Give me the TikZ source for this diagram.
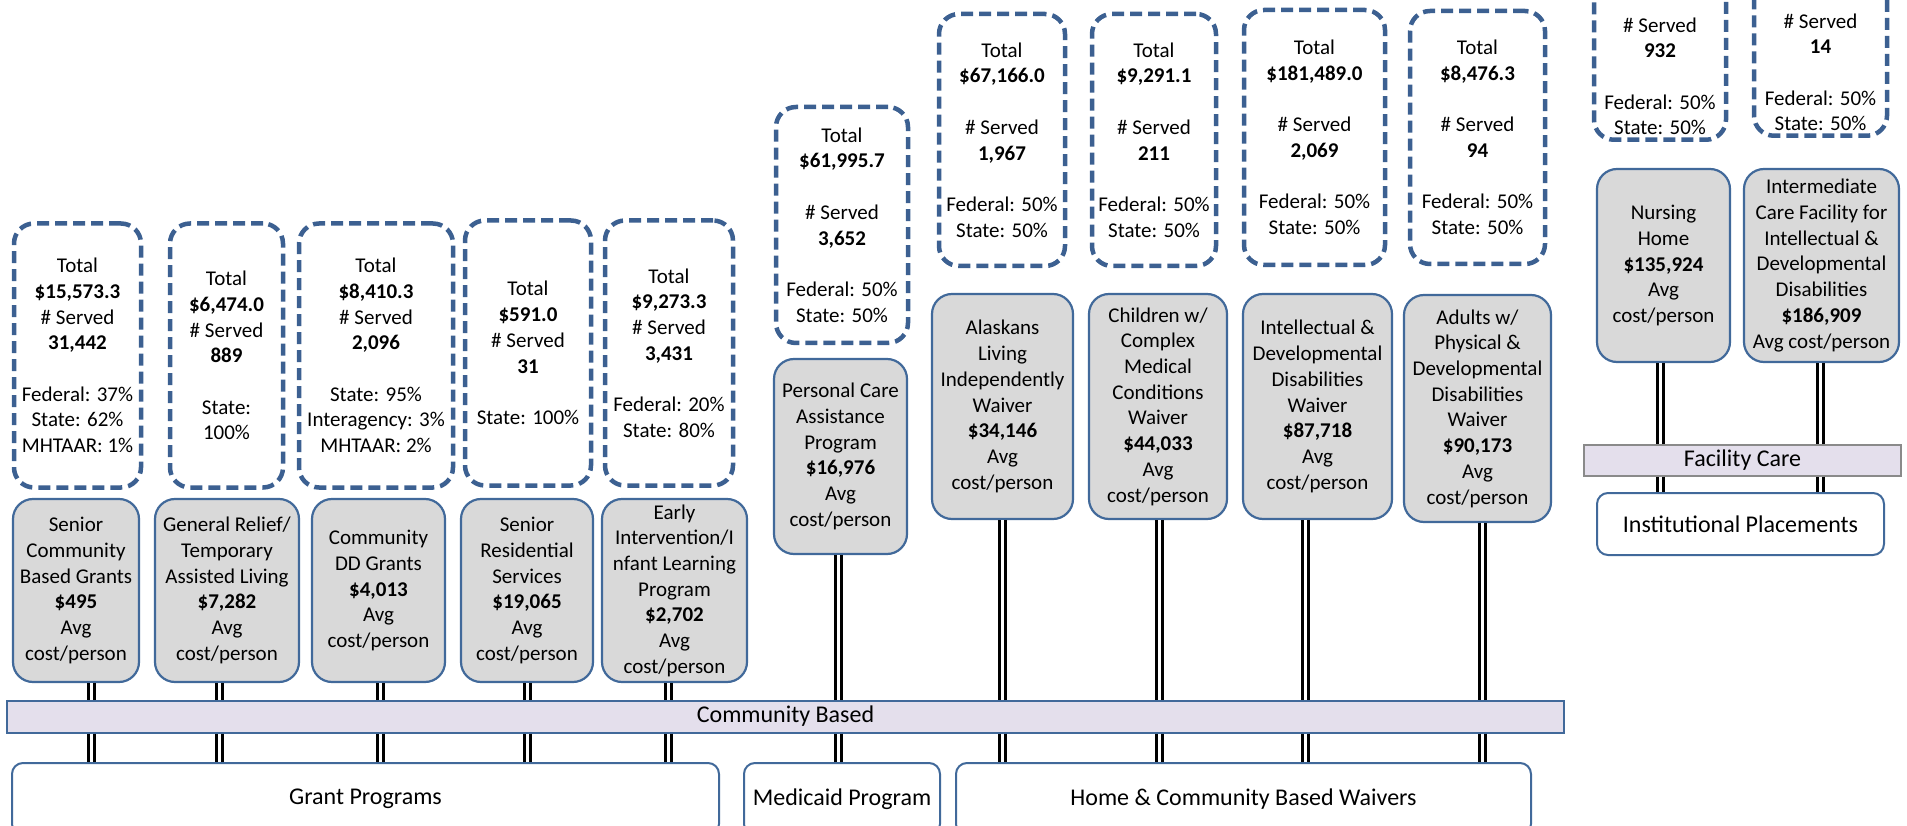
\documentclass[tikz,border=0pt]{standalone}
\usepackage{fontspec}
\setmainfont{Carlito}
\usetikzlibrary{positioning}

\definecolor{dashblue}{HTML}{3C6091}
\definecolor{boxblue}{HTML}{41699A}
\definecolor{boxgray}{HTML}{D9D9D9}
\definecolor{barlilac}{HTML}{E4DFEC}
\definecolor{bargray}{HTML}{8A8A8A}

\begin{document}
\begin{tikzpicture}[
                x=1pt, y=-1pt,
                line width=2pt,
                fund/.style={draw=dashblue, line width=4.5pt, dash pattern=on 12pt off 6pt,
                             rounded corners=20pt, fill=white, align=center, inner sep=2pt,
                             font=\fontsize{21}{25.7}\selectfont},
                fundtxt/.style={align=center, inner sep=2pt, font=\fontsize{21}{25.7}\selectfont},
                prog/.style={draw=boxblue, line width=2.2pt, fill=boxgray, rounded corners=20pt,
                             align=center, inner sep=2pt, font=\fontsize{21}{25.7}\selectfont},
                bar/.style={draw=boxblue, line width=2pt, fill=barlilac, inner sep=0pt,
                            font=\fontsize{24}{28}\selectfont},
                base/.style={draw=boxblue, line width=2pt, rounded corners=11pt, fill=white,
                             inner sep=0pt, font=\fontsize{24}{28}\selectfont},
                dbl/.style={draw=black, line width=3pt, double=white, double distance=3pt}]

\useasboundingbox (0,0) rectangle (1907,826);

% grant programs
                    % 1
                    \node[fund, minimum width=127pt, minimum height=264pt] (F1) at (77.5,355.5) {Total\\\textbf{\$15,573.3}\\\# Served\\\textbf{31,442}\\[25.7pt]Federal: 37\%\\State: 62\%\\MHTAAR: 1\%};
                    \node[prog, minimum width=126pt, minimum height=183pt] (G1) at (76,590.5) {Senior\\Community\\Based Grants\\\textbf{\$495}\\Avg\\cost/person};

                    % 2
                    \node[fund, minimum width=113pt, minimum height=264pt] (F2) at (226.5,355.5) {Total\\\textbf{\$6,474.0}\\\# Served\\\textbf{889}\\[25.7pt]State:\\100\%};
                    \node[prog, minimum width=144pt, minimum height=183pt] (G2) at (227,590.5) {General Relief/\\Temporary\\Assisted Living\\\textbf{\$7,282}\\Avg\\cost/person};

                    % 3
                    \node[fund, minimum width=154pt, minimum height=264pt] (F3) at (376,355.5) {Total\\\textbf{\$8,410.3}\\\# Served\\\textbf{2,096}\\[25.7pt]State: 95\%\\Interagency: 3\%\\MHTAAR: 2\%};
                    \node[prog, minimum width=133pt, minimum height=183pt] (G3) at (378.5,590.5) {Community\\DD Grants\\\textbf{\$4,013}\\Avg\\cost/person};

                    % 4
                    \node[fund, minimum width=126pt, minimum height=265pt] (F4) at (528,353) {Total\\\textbf{\$591.0}\\\# Served\\\textbf{31}\\[25.7pt]State: 100\%};
                    \node[prog, minimum width=132pt, minimum height=183pt] (G4) at (527,590.5) {Senior\\Residential\\Services\\\textbf{\$19,065}\\Avg\\cost/person};

                    % 5
                    \node[fund, minimum width=128pt, minimum height=265pt] (F5) at (669,353) {Total\\\textbf{\$9,273.3}\\\# Served\\\textbf{3,431}\\[25.7pt]Federal: 20\%\\State: 80\%};
                    \node[prog, minimum width=145pt, minimum height=183pt] (G5) at (674.5,590.5) {Early\\Intervention/I\\nfant Learning\\Program\\\textbf{\$2,702}\\Avg\\cost/person};

% medicaid program
                    \node[fund, minimum width=132pt, minimum height=236pt] (FP) at (842,225) {Total\\\textbf{\$61,995.7}\\[25.7pt]\# Served\\\textbf{3,652}\\[25.7pt]Federal: 50\%\\State: 50\%};
                    \node[prog, minimum width=133pt, minimum height=195pt] (GP) at (840.5,456.5) {Personal Care\\Assistance\\Program\\\textbf{\$16,976}\\Avg\\cost/person};

% waivers
                    % 1
                    \node[fund, minimum width=126pt, minimum height=252pt] (FW1) at (1002,140) {Total\\\textbf{\$67,166.0}\\[25.7pt]\# Served\\\textbf{1,967}\\[25.7pt]Federal: 50\%\\State: 50\%};
                    \node[prog, minimum width=141pt, minimum height=225pt] (GW1) at (1002.5,406.5) {Alaskans\\Living\\Independently\\Waiver\\\textbf{\$34,146}\\Avg\\cost/person};

                    % 2
                    \node[fund, minimum width=124pt, minimum height=252pt] (FW2) at (1154,140) {Total\\\textbf{\$9,291.1}\\[25.7pt]\# Served\\\textbf{211}\\[25.7pt]Federal: 50\%\\State: 50\%};
                    \node[prog, minimum width=138pt, minimum height=225pt] (GW2) at (1158,406.5) {Children w/\\Complex\\Medical\\Conditions\\Waiver\\\textbf{\$44,033}\\Avg\\cost/person};

                    % 3
                    \node[fund, minimum width=141pt, minimum height=255pt] (FW3) at (1314.5,137.5) {Total\\\textbf{\$181,489.0}\\[25.7pt]\# Served\\\textbf{2,069}\\[25.7pt]Federal: 50\%\\State: 50\%};
                    \node[prog, minimum width=149pt, minimum height=225pt] (GW3) at (1317.5,406.5) {Intellectual \&\\Developmental\\Disabilities\\Waiver\\\textbf{\$87,718}\\Avg\\cost/person};

                    % 4
                    \node[fund, minimum width=135pt, minimum height=253pt] (FW4) at (1477.5,137.5) {Total\\\textbf{\$8,476.3}\\[25.7pt]\# Served\\\textbf{94}\\[25.7pt]Federal: 50\%\\State: 50\%};
                    \node[prog, minimum width=147pt, minimum height=227pt] (GW4) at (1477.5,408.5) {Adults w/\\Physical \&\\Developmental\\Disabilities\\Waiver\\\textbf{\$90,173}\\Avg\\cost/person};

% facility care
                    % 1
                    \node[fund, minimum width=132pt, minimum height=250pt, anchor=south] (FN) at (1660,142) {};
                    \node[fundtxt, above=4pt of FN.south] (FNtxt) {\# Served\\\textbf{932}\\[25.7pt]Federal: 50\%\\State: 50\%};
                    \node[prog, minimum width=133pt, minimum height=193pt] (GN) at (1663.5,265.5) {Nursing\\Home\\\textbf{\$135,924}\\Avg\\cost/person};

                    % 2
                    \node[fund, minimum width=133pt, minimum height=250pt, anchor=south] (FI) at (1820.5,138) {};
                    \node[fundtxt, above=4pt of FI.south] (FItxt) {\# Served\\\textbf{14}\\[25.7pt]Federal: 50\%\\State: 50\%};
                    \node[prog, minimum width=155pt, minimum height=193pt] (GI) at (1821.5,265.5) {Intermediate\\Care Facility for\\Intellectual \&\\Developmental\\Disabilities\\\textbf{\$186,909}\\Avg cost/person};

%%%%%%%%%%%%%%%%%%%%%%%%%%%%%%%%%%%%%%%%%%%%%%%%%%%%%%%%%%%%%%%%%%%%%%%%%%%%%%%%%%%%

% bars
\node[bar, minimum width=1557pt, minimum height=32pt] (CB) at (785.5,716.5) {Community Based};
\node[bar, draw=bargray, minimum width=317pt, minimum height=31pt] (FC) at (1742.5,460) {Facility Care};

% bottom row
\node[base, minimum width=707pt, minimum height=72pt] (GRP) at (365.5,799) {Grant Programs};
\node[base, minimum width=196pt, minimum height=72pt] (MED) at (842,799) {Medicaid Program};
\node[base, minimum width=575pt, minimum height=72pt] (HCB) at (1243.5,799) {Home \& Community Based Waivers};
\node[base, minimum width=287pt, minimum height=62pt] (INST) at (1740.5,524) {Institutional Placements};

% connectors
\foreach \g/\dx/\b/\p in {G1/15/CB/GRP, G2/-8/CB/GRP, G3/1.5/CB/GRP, G4/0/CB/GRP, G5/-6.5/CB/GRP,
                          GP/-2.5/CB/MED,
                          GW1/-0.5/CB/HCB, GW2/1/CB/HCB, GW3/-12.5/CB/HCB, GW4/4.5/CB/HCB,
                          GN/-3.5/FC/INST, GI/-1.5/FC/INST}{
  \draw[dbl] ([xshift=\dx pt]\g.south) -- ([xshift=\dx pt]\g.south |- \b.north)
             ([xshift=\dx pt]\g.south |- \b.south) -- ([xshift=\dx pt]\g.south |- \p.north);
}

\end{tikzpicture}
\end{document}
